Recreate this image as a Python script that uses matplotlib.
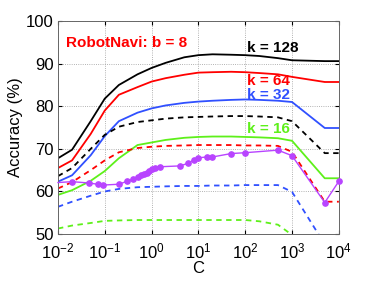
import numpy as np
import matplotlib
matplotlib.use('Agg')
import matplotlib.pyplot as plt

plt.rcParams['font.family'] = ['Liberation Sans', 'DejaVu Sans']

# C values for the k curves
C = [0.01, 0.02, 0.05, 0.1, 0.2, 0.5, 1, 2, 5, 10, 20, 50, 100, 200, 500, 1000, 5000, 10000]

# solid = one set, dashed = other set (per k)
k128_solid = [67.8, 69.8, 76.5, 81.8, 85.0, 87.5, 89.0, 90.2, 91.5, 92.0, 92.2, 92.1, 92.0, 91.8, 91.3, 90.8, 90.6, 90.6]
k64_solid = [65.5, 67.3, 73.5, 79.0, 82.7, 84.5, 85.8, 86.6, 87.4, 87.9, 88.0, 88.1, 88.0, 87.8, 87.5, 86.9, 85.7, 85.7]
k32_solid = [62.3, 63.8, 68.5, 73.0, 76.5, 78.5, 79.5, 80.2, 80.8, 81.1, 81.3, 81.5, 81.6, 81.5, 81.3, 81.0, 74.9, 74.9]
k16_solid = [59.2, 60.3, 62.5, 64.8, 67.8, 70.9, 71.5, 72.1, 72.6, 72.8, 72.9, 72.9, 72.8, 72.7, 72.5, 71.9, 63.1, 63.1]

k128_dash = [63.6, 65.5, 70.0, 73.3, 75.2, 76.3, 76.7, 77.1, 77.4, 77.5, 77.6, 77.7, 77.7, 77.6, 77.4, 76.5, 69.0, 69.0]
k64_dash = [60.7, 62.2, 65.0, 67.3, 69.2, 70.2, 70.5, 70.7, 70.8, 70.9, 70.9, 70.9, 70.8, 70.8, 70.7, 69.3, 57.6, 57.6]
k32_dash = [56.4, 57.6, 59.0, 60.0, 60.6, 61.0, 61.1, 61.2, 61.3, 61.3, 61.4, 61.4, 61.5, 61.5, 61.5, 59.9, 47.6, 47.5]
k16_dash = [51.3, 52.0, 52.6, 53.1, 53.2, 53.3, 53.3, 53.3, 53.3, 53.3, 53.3, 53.3, 53.3, 53.0, 52.2, 49.8, 40.0, 40.0]

# purple curve with markers
C_p = [0.01, 0.02, 0.045, 0.07, 0.09, 0.2, 0.3, 0.4, 0.5, 0.6, 0.7, 0.8, 0.9, 1, 1.2, 1.5,
       4, 6, 8, 10, 15, 20, 50, 100, 500, 1000, 5000, 10000]
acc_p = [62.1, 62.3, 62.0, 61.7, 61.5, 61.7, 62.4, 62.9, 63.5, 63.8, 64.1, 64.4, 64.8, 65.2, 65.6, 65.8,
         66.0, 66.6, 67.4, 67.9, 68.1, 68.1, 68.9, 69.1, 69.7, 68.4, 57.4, 62.4]

blue = '#3050ff'
green = '#5ef01a'
purple = '#b844ff'

fig = plt.figure(figsize=(3.74, 2.81), dpi=100)
ax = fig.add_axes([0.155, 0.167, 0.751, 0.758])

lw = 1.3
dash = (0, (3, 2.5))
ax.plot(C, k128_solid, color='black', lw=lw)
ax.plot(C, k64_solid, color='red', lw=lw)
ax.plot(C, k32_solid, color=blue, lw=lw)
ax.plot(C, k16_solid, color=green, lw=lw)
ax.plot(C, k128_dash, color='black', lw=lw, ls=dash)
ax.plot(C, k64_dash, color='red', lw=lw, ls=dash)
ax.plot(C, k32_dash, color=blue, lw=lw, ls=dash)
ax.plot(C, k16_dash, color=green, lw=lw, ls=dash)
ax.plot(C_p, acc_p, color=purple, lw=1.0, marker='o', ms=3.8, markevery=list(range(1, len(C_p))),
        clip_on=False, zorder=5)

ax.set_xscale('log')
ax.set_xlim(1e-2, 1e4)
ax.set_ylim(50, 100)
ax.set_yticks([50, 60, 70, 80, 90, 100])
ax.set_xticks([1e-2, 1e-1, 1, 1e1, 1e2, 1e3, 1e4])
ax.grid(True, which='major', ls=':', color='#999999', lw=0.6)
ax.tick_params(which='both', direction='in', top=True, right=True, labelsize=12)
ax.tick_params(axis='x', pad=5)
ax.tick_params(axis='y', pad=3)
ax.tick_params(which='major', length=3)
ax.tick_params(which='minor', length=1.8)
for s in ax.spines.values():
    s.set_color('#666666')
    s.set_linewidth(0.7)

ax.set_xlabel('C', fontsize=12, labelpad=0)
ax.set_ylabel('Accuracy (%)', fontsize=12, labelpad=2)

ax.text(0.028, 0.878, 'RobotNavi: b = 8', transform=ax.transAxes, color='red',
        fontsize=11, fontweight='bold')
ax.text(0.673, 0.854, 'k = 128', transform=ax.transAxes, color='black', fontsize=11, fontweight='bold')
ax.text(0.673, 0.702, 'k = 64', transform=ax.transAxes, color='red', fontsize=11, fontweight='bold')
ax.text(0.673, 0.636, 'k = 32', transform=ax.transAxes, color=blue, fontsize=11, fontweight='bold')
ax.text(0.673, 0.474, 'k = 16', transform=ax.transAxes, color=green, fontsize=11, fontweight='bold')

fig.savefig('out.png', dpi=100)
